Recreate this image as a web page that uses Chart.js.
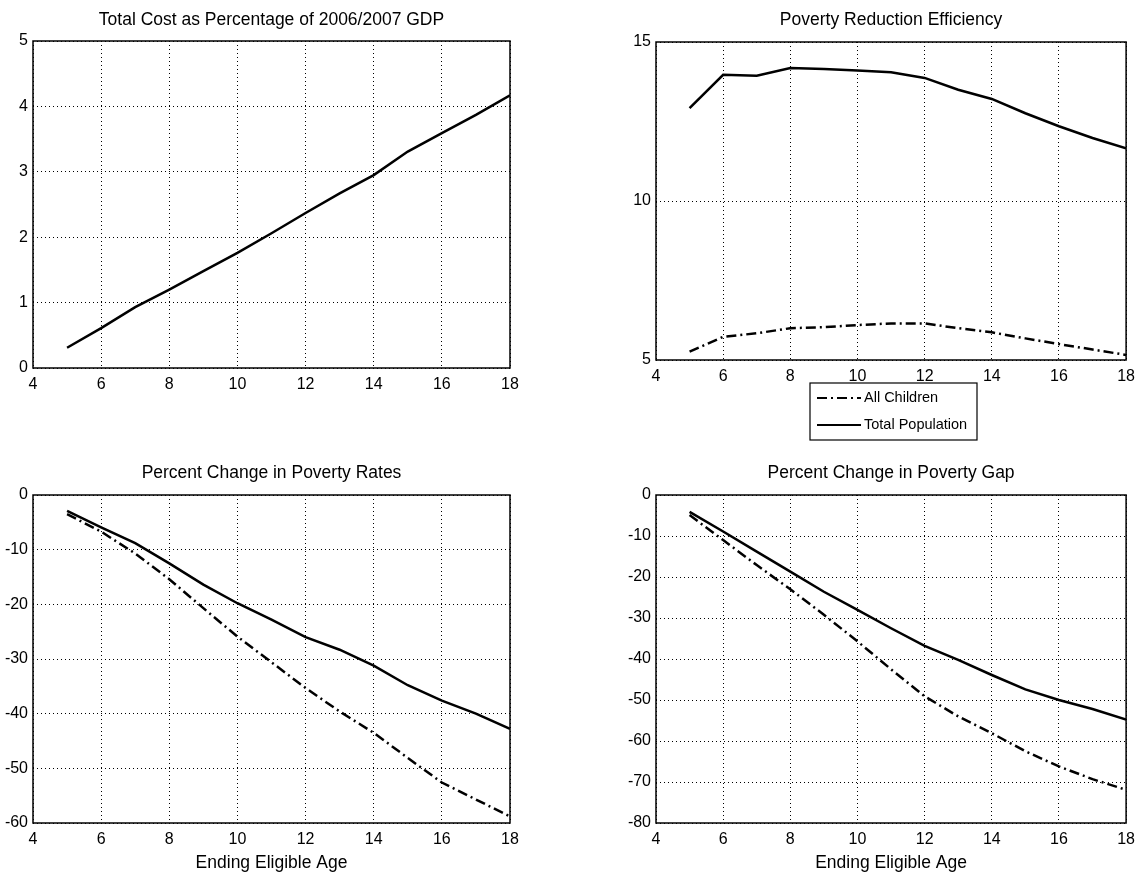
<!DOCTYPE html>
<html>
<head>
<meta charset="utf-8">
<script src="https://cdn.jsdelivr.net/npm/chart.js@4.4.1/dist/chart.umd.min.js"></script>
<style>
  body { margin: 0; background: #fff; }
  #wrap { position: relative; width: 1142px; height: 879px; }
  canvas { position: absolute; }
</style>
</head>
<body>
<div id="wrap">
  <canvas id="cost" width="571" height="440" style="left:0;top:0"></canvas>
  <canvas id="eff" width="571" height="443" style="left:571px;top:0"></canvas>
  <canvas id="rates" width="571" height="439" style="left:0;top:440px"></canvas>
  <canvas id="gap" width="571" height="439" style="left:571px;top:440px"></canvas>
</div>
<script>
// ending eligible age
const ages = [5, 6, 7, 8, 9, 10, 11, 12, 13, 14, 15, 16, 17, 18];

const totalCost = [0.31, 0.61, 0.93, 1.20, 1.48, 1.76, 2.06, 2.37, 2.67, 2.95, 3.31, 3.59, 3.87, 4.17];

const effChildren = [5.26, 5.73, 5.84, 6.00, 6.03, 6.10, 6.15, 6.15, 6.00, 5.87, 5.68, 5.50, 5.33, 5.16];
const effTotal    = [12.92, 13.97, 13.94, 14.18, 14.15, 14.10, 14.05, 13.87, 13.50, 13.21, 12.76, 12.35, 11.98, 11.66];

const rateChildren = [-3.5, -6.7, -10.7, -15.4, -20.7, -25.9, -30.6, -35.3, -39.6, -43.5, -48.1, -52.6, -55.7, -58.8];
const rateTotal    = [-2.9, -5.9, -8.8, -12.5, -16.4, -19.8, -22.8, -26.0, -28.3, -31.2, -34.8, -37.6, -40.0, -42.8];

const gapChildren = [-4.9, -11.0, -17.1, -23.0, -29.2, -35.7, -42.5, -49.1, -54.0, -58.1, -62.5, -66.2, -69.3, -71.9];
const gapTotal    = [-4.1, -8.9, -13.8, -18.7, -23.6, -28.0, -32.5, -36.8, -40.2, -43.9, -47.4, -50.0, -52.2, -54.8];

const seriesNames = ['All Children', 'Total Population'];
const xLabel = 'Ending Eligible Age';

const FONT = "'Liberation Sans Narrow', 'Arial Narrow', 'Liberation Sans', Arial, sans-serif";
Chart.defaults.font.family = FONT;
Chart.defaults.color = '#000';
Chart.defaults.animation = false;

const DASHDOT = [10, 4, 2, 4];
const TITLE_SIZE = 17.5;

function pts(vals) {
  return vals.map((v, i) => ({x: ages[i], y: v}));
}

function line(label, vals, dash) {
  return {
    label: label,
    data: pts(vals),
    borderColor: '#000',
    borderWidth: 2.5,
    borderDash: dash || [],
    pointRadius: 0,
    tension: 0,
    fill: false
  };
}

// solid box round the plot area (matlab style)
const boxPlugin = {
  id: 'box',
  afterDatasetsDraw(chart) {
    const a = chart.chartArea, ctx = chart.ctx;
    ctx.save();
    ctx.strokeStyle = '#000';
    ctx.lineWidth = 1.5;
    ctx.strokeRect(a.left, a.top, a.right - a.left, a.bottom - a.top);
    ctx.restore();
  }
};

// boxed legend under the efficiency plot
const legendBox = {
  id: 'legendBox',
  afterDraw(chart, args, o) {
    if (!o.rect) return;
    const ctx = chart.ctx, r = o.rect;
    ctx.save();
    ctx.fillStyle = '#fff';
    ctx.fillRect(r.x, r.y, r.w, r.h);
    ctx.strokeStyle = '#000';
    ctx.lineWidth = 1.2;
    ctx.strokeRect(r.x, r.y, r.w, r.h);
    ctx.font = '14.5px ' + FONT;
    ctx.textBaseline = 'middle';
    chart.data.datasets.forEach((ds, i) => {
      const y = r.y + 15 + i * 27;
      ctx.beginPath();
      ctx.setLineDash(ds.borderDash || []);
      ctx.lineWidth = 2;
      ctx.moveTo(r.x + 7, y);
      ctx.lineTo(r.x + 51, y);
      ctx.stroke();
      ctx.setLineDash([]);
      ctx.fillStyle = '#000';
      ctx.fillText(ds.label, r.x + 54, y);
    });
    ctx.restore();
  }
};

function makeChart(id, g, title, datasets, yMin, yMax, yStep, withXLabel, legendRect) {
  const cv = document.getElementById(id);
  const W = cv.width, H = cv.height;
  const tLH = TITLE_SIZE * 1.2;
  const tTop = g.tc - tLH / 2;
  return new Chart(cv, {
    type: 'line',
    data: {datasets: datasets},
    options: {
      responsive: false,
      layout: {padding: {left: 0, top: 0, right: W - g.R, bottom: 0}},
      plugins: {
        legend: {display: false},
        tooltip: {enabled: false},
        title: {
          display: true,
          text: title,
          fullSize: false,
          font: {size: TITLE_SIZE, weight: 'normal', lineHeight: 1.2},
          padding: {top: tTop, bottom: g.T - tTop - tLH}
        },
        legendBox: {rect: legendRect}
      },
      scales: {
        x: {
          type: 'linear',
          min: 4, max: 18,
          ticks: {stepSize: 2, padding: 7, font: {size: 16}},
          grid: {color: '#000', lineWidth: 1, drawTicks: false},
          border: {display: false, dash: [1, 3]},
          title: {
            display: withXLabel,
            text: xLabel,
            font: {size: 17.5},
            padding: {top: 0, bottom: 5}
          },
          afterFit(s) { s.height = H - g.B; }
        },
        y: {
          min: yMin, max: yMax,
          ticks: {stepSize: yStep, padding: 5, font: {size: 16}},
          grid: {color: '#000', lineWidth: 1, drawTicks: false},
          border: {display: false, dash: [1, 3]},
          afterFit(s) { s.width = g.L; }
        }
      }
    },
    plugins: [boxPlugin, legendBox]
  });
}

makeChart('cost', {L: 33, T: 41, R: 510, B: 368, tc: 20},
  'Total Cost as Percentage of 2006/2007 GDP',
  [line('Total Cost', totalCost)], 0, 5, 1, false, null);

makeChart('eff', {L: 85, T: 42, R: 562, B: 360, tc: 20},
  'Poverty Reduction Efficiency',
  [line(seriesNames[0], effChildren, DASHDOT), line(seriesNames[1], effTotal)],
  5, 15, 5, false, {x: 239, y: 383, w: 167, h: 57});

makeChart('rates', {L: 33, T: 55, R: 510, B: 383, tc: 33},
  'Percent Change in Poverty Rates',
  [line(seriesNames[0], rateChildren, DASHDOT), line(seriesNames[1], rateTotal)],
  -60, 0, 10, true, null);

makeChart('gap', {L: 85, T: 55, R: 562, B: 383, tc: 33},
  'Percent Change in Poverty Gap',
  [line(seriesNames[0], gapChildren, DASHDOT), line(seriesNames[1], gapTotal)],
  -80, 0, 10, true, null);
</script>
</body>
</html>
